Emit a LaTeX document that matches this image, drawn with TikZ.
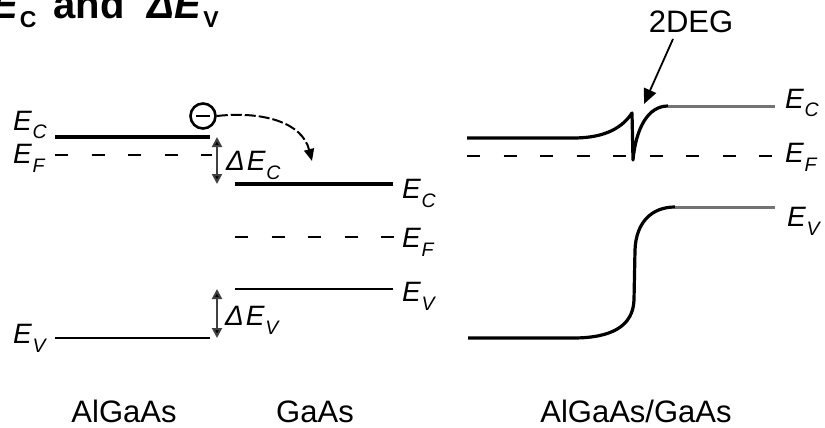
\documentclass[tikz,border=0pt]{standalone}
\usepackage{fontspec}
\setmainfont{Liberation Sans}
\usetikzlibrary{arrows.meta}
\newcommand\elab[2]{\textit{#1}\kern0.5pt\raisebox{-9pt}{\fontsize{19.5}{20}\selectfont\textit{#2}}}
\newcommand\tsub[1]{\raisebox{-9pt}{\fontsize{23}{24}\selectfont #1}}
\begin{document}
\begin{tikzpicture}[x=1pt,y=-1pt,
  band/.style={line width=3.2pt,black},
  bandthin/.style={line width=2.6pt,black},
  grayband/.style={line width=3pt,black!55},
  fermi/.style={line width=2.8pt,dash pattern=on 13pt off 23.5pt},
  lab/.style={font=\fontsize{28}{30}\selectfont,inner sep=0pt,anchor=base west},
  mat/.style={font=\fontsize{31}{34}\selectfont,inner sep=0pt,anchor=base},
  gaparrow/.style={line width=2pt,draw=black!75,
    {Triangle[length=10pt,width=10pt,fill=black]}-{Triangle[length=10pt,width=10pt,fill=black]}},
  electron/.style={circle,draw,line width=2.6pt,minimum size=25pt,inner sep=0pt}
]
\useasboundingbox (0,0) rectangle (825,428);
\clip (0,0) rectangle (825,428);

% title (cut at the top, as in the reference)
\node[inner sep=0pt,anchor=base west,font=\fontsize{40}{42}\selectfont\bfseries] (title) at (-9,19)
  {\textit{E}\kern1pt\tsub{C}\kern6pt{} and\kern12pt{} \textit{ΔE}\kern1pt\tsub{V}};

% ---------- left: separate materials ----------
\coordinate (aC1) at (55,137);  \coordinate (aC2) at (210,137);
\coordinate (aF1) at (55,155);  \coordinate (aF2) at (212,155);
\coordinate (aV1) at (55,338);  \coordinate (aV2) at (210,338);
\coordinate (gC1) at (235,184); \coordinate (gC2) at (393,184);
\coordinate (gF1) at (235,237); \coordinate (gF2) at (395,237);
\coordinate (gV1) at (235,289); \coordinate (gV2) at (393,289);

\draw[band,line width=3.6pt] (aC1) -- (aC2);
\draw[fermi] (aF1) -- (aF2);
\draw[bandthin] (aV1) -- (aV2);
\draw[band] (gC1) -- (gC2);
\draw[fermi] (gF1) -- (gF2);
\draw[bandthin] (gV1) -- (gV2);

\node[lab] (laC) at (13,130) {\elab{E}{C}};
\node[lab] (laF) at (13,163) {\elab{E}{F}};
\node[lab] (laV) at (13,343) {\elab{E}{V}};
\node[lab] (lgC) at (402,198) {\elab{E}{C}};
\node[lab] (lgF) at (402,247) {\elab{E}{F}};
\node[lab] (lgV) at (402,301) {\elab{E}{V}};

% band offsets
\coordinate (dc1) at (217,137); \coordinate (dc2) at (217,184);
\coordinate (dv1) at (217,289); \coordinate (dv2) at (217,338);
\draw[gaparrow] (dc1) -- (dc2);
\draw[gaparrow] (dv1) -- (dv2);
\node[lab] (ldc) at (226,170) {\textit{Δ\kern2pt}\elab{E}{C}};
\node[lab] (ldv) at (225,325) {\textit{Δ\kern2pt}\elab{E}{V}};

% electron transfer
\node[electron] (el) at (203,116) {};
\draw[line width=2.6pt] ([xshift=-7pt]el.center) -- ([xshift=7pt]el.center);
\coordinate (eltip) at (312,161);
\draw[line width=2pt,dash pattern=on 11pt off 3pt,-{Triangle[length=12pt,width=10pt]}]
  (el.east) .. controls (262,111) and (302,122) .. (eltip);

\node[mat] (m1) at (124,422) {AlGaAs};
\node[mat] (m2) at (315,422) {GaAs};

% ---------- right: heterojunction ----------
\coordinate (hC0) at (467,138);
\coordinate (hC1) at (573,138);
\coordinate (spT) at (632,113);
\coordinate (spB) at (633,160);
\coordinate (hC2) at (668,106);
\coordinate (hC3) at (775,106);
\draw[band,line join=round] (hC0) -- (hC1) .. controls (600,138) and (620,131) .. (spT)
   -- (spB) .. controls (636,128) and (648,106) .. (hC2);
\draw[grayband] (hC2) -- (hC3);

\coordinate (hF0) at (467,156);
\coordinate (hF1) at (775,156);
\draw[fermi] (hF0) -- (hF1);

\coordinate (hV0) at (468,338);
\coordinate (hV1) at (573,338);
\coordinate (vb) at (634,300);
\coordinate (vt) at (635,250);
\coordinate (hV2) at (675,207);
\coordinate (hV3) at (775,207);
\draw[band] (hV0) -- (hV1) .. controls (612,338) and (633,326) .. (vb)
   -- (vt) .. controls (636,222) and (652,207) .. (hV2);
\draw[grayband] (hV2) -- (hV3);

\node[lab] (lhC) at (785,108) {\elab{E}{C}};
\node[lab] (lhF) at (785,162) {\elab{E}{F}};
\node[lab] (lhV) at (787,226) {\elab{E}{V}};

\node[font=\fontsize{31}{32}\selectfont,inner sep=0pt,anchor=base] (deg) at (691,33) {2DEG};
\coordinate (degtail) at (673,39);
\coordinate (degtip) at (644,104);
\draw[line width=1.8pt,-{Triangle[length=15pt,width=13pt]}] (degtail) -- (degtip);

\node[mat] (m3) at (636,422) {AlGaAs/GaAs};
\end{tikzpicture}
\end{document}
